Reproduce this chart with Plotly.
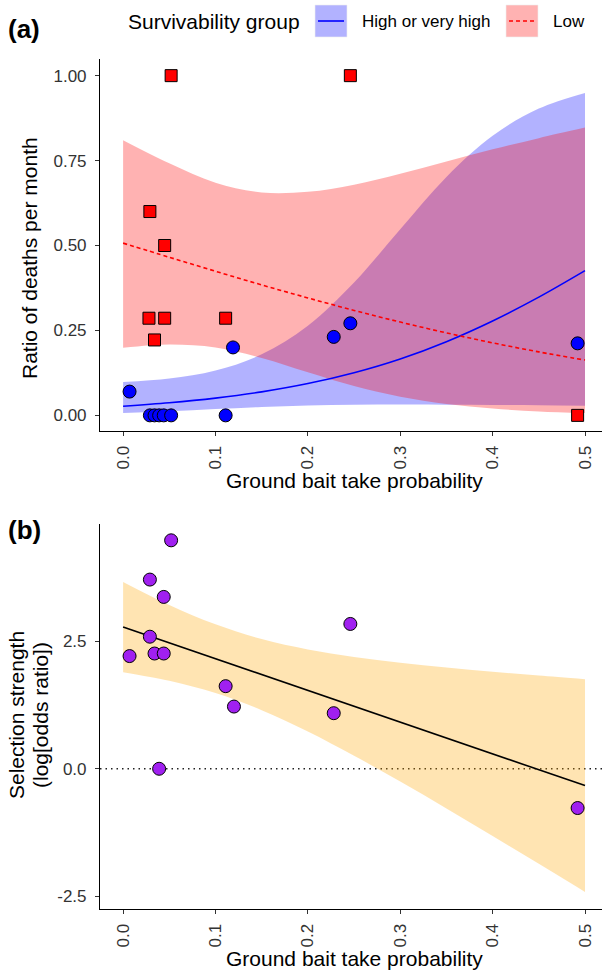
import plotly.graph_objects as go

W, H = 602, 972
FONT = "Liberation Sans, Arial, sans-serif"

# ---------------- data: panel (a) ----------------
site_x_high = [0.007, 0.029, 0.034, 0.039, 0.044, 0.052, 0.111, 0.119, 0.228, 0.246, 0.492]
ratio_high = [0.07, 0.0, 0.0, 0.0, 0.0, 0.0, 0.0, 0.20, 0.231, 0.271, 0.212]
site_x_low = [0.052, 0.246, 0.029, 0.045, 0.028, 0.045, 0.111, 0.034, 0.492]
ratio_low = [1.0, 1.0, 0.6, 0.5, 0.286, 0.286, 0.286, 0.222, 0.0]

fit_x = [0.0, 0.05, 0.1, 0.15, 0.2, 0.25, 0.3, 0.35, 0.4, 0.45, 0.5]
high_fit = [0.0270, 0.0371, 0.0508, 0.0692, 0.0936, 0.1255, 0.166, 0.217, 0.278, 0.348, 0.426]
high_lo = [0.0070, 0.0120, 0.0185, 0.0246, 0.0289, 0.0310, 0.0317, 0.0315, 0.0308, 0.0298, 0.0286]
high_hi = [0.0984, 0.1087, 0.1319, 0.1796, 0.264, 0.391, 0.548, 0.702, 0.823, 0.903, 0.949]
low_fit = [0.507, 0.4654, 0.4243, 0.384, 0.3457, 0.309, 0.2747, 0.2428, 0.2135, 0.1868, 0.1628]
low_lo = [0.199, 0.2088, 0.200, 0.169, 0.127, 0.0863, 0.055, 0.0337, 0.0200, 0.0117, 0.0068]
low_hi = [0.810, 0.742, 0.685, 0.656, 0.658, 0.679, 0.711, 0.747, 0.783, 0.816, 0.847]

ratio_ticks = [0.0, 0.25, 0.5, 0.75, 1.0]
ratio_ticktext = ["0.00", "0.25", "0.50", "0.75", "1.00"]
prob_ticks = [0.0, 0.1, 0.2, 0.3, 0.4, 0.5]
prob_ticktext = ["0.0", "0.1", "0.2", "0.3", "0.4", "0.5"]

# ---------------- data: panel (b) ----------------
sel_x = [0.007, 0.029, 0.029, 0.034, 0.039, 0.044, 0.044, 0.052, 0.111, 0.120, 0.228, 0.246, 0.492]
sel_y = [2.21, 3.71, 2.59, 2.26, 0.0, 3.37, 2.26, 4.48, 1.62, 1.22, 1.09, 2.84, -0.77]
sel_fit = [2.78, 2.469, 2.158, 1.847, 1.536, 1.225, 0.914, 0.603, 0.292, -0.019, -0.33]
sel_lo = [1.895, 1.725, 1.484, 1.150, 0.732, 0.256, -0.252, -0.780, -1.320, -1.865, -2.416]
sel_hi = [3.665, 3.213, 2.832, 2.544, 2.340, 2.194, 2.080, 1.986, 1.904, 1.827, 1.756]
sel_ticks = [-2.5, 0.0, 2.5]
sel_ticktext = ["-2.5", "0.0", "2.5"]
reference_level = 0.0

groups = ["High or very high", "Low"]

# ---------------- helpers ----------------
def px(x):
    return x / W

def py(y):
    return 1 - y / H

BLUE = "#0000FF"
RED = "#FF0000"
BLUE_FILL = "rgba(0,0,255,0.3)"
RED_FILL = "rgba(255,0,0,0.3)"
ORANGE_FILL = "rgba(255,165,0,0.3)"
PURPLE = "#A020F0"

fig = go.Figure()

# panel (a) bands
fig.add_trace(go.Scatter(x=fit_x, y=high_lo, mode="lines", line=dict(width=0, shape="spline"),
                         showlegend=False, hoverinfo="skip", xaxis="x", yaxis="y"))
fig.add_trace(go.Scatter(x=fit_x, y=high_hi, mode="lines", line=dict(width=0, shape="spline"),
                         fill="tonexty", fillcolor=BLUE_FILL, showlegend=False, hoverinfo="skip",
                         xaxis="x", yaxis="y"))
fig.add_trace(go.Scatter(x=fit_x, y=low_lo, mode="lines", line=dict(width=0, shape="spline"),
                         showlegend=False, hoverinfo="skip", xaxis="x", yaxis="y"))
fig.add_trace(go.Scatter(x=fit_x, y=low_hi, mode="lines", line=dict(width=0, shape="spline"),
                         fill="tonexty", fillcolor=RED_FILL, showlegend=False, hoverinfo="skip",
                         xaxis="x", yaxis="y"))
# panel (a) fitted lines
fig.add_trace(go.Scatter(x=fit_x, y=high_fit, mode="lines",
                         line=dict(color=BLUE, width=1.6, shape="spline"),
                         name=groups[0], showlegend=False, xaxis="x", yaxis="y"))
fig.add_trace(go.Scatter(x=fit_x, y=low_fit, mode="lines",
                         line=dict(color=RED, width=1.6, dash="4px,3px", shape="spline"),
                         name=groups[1], showlegend=False, xaxis="x", yaxis="y"))
# panel (a) points
fig.add_trace(go.Scatter(x=site_x_high, y=ratio_high, mode="markers",
                         marker=dict(symbol="circle", size=13, color=BLUE,
                                     line=dict(color="black", width=1)),
                         name=groups[0], showlegend=False, xaxis="x", yaxis="y"))
fig.add_trace(go.Scatter(x=site_x_low, y=ratio_low, mode="markers",
                         marker=dict(symbol="square", size=12, color=RED,
                                     line=dict(color="black", width=1)),
                         name=groups[1], showlegend=False, xaxis="x", yaxis="y"))

# panel (b)
fig.add_trace(go.Scatter(x=fit_x, y=sel_lo, mode="lines", line=dict(width=0, shape="spline"),
                         showlegend=False, hoverinfo="skip", xaxis="x2", yaxis="y2"))
fig.add_trace(go.Scatter(x=fit_x, y=sel_hi, mode="lines", line=dict(width=0, shape="spline"),
                         fill="tonexty", fillcolor=ORANGE_FILL, showlegend=False, hoverinfo="skip",
                         xaxis="x2", yaxis="y2"))
fig.add_trace(go.Scatter(x=fit_x, y=sel_fit, mode="lines", line=dict(color="black", width=1.6),
                         showlegend=False, xaxis="x2", yaxis="y2"))
fig.add_trace(go.Scatter(x=sel_x, y=sel_y, mode="markers",
                         marker=dict(symbol="circle", size=13, color=PURPLE,
                                     line=dict(color="black", width=1)),
                         showlegend=False, xaxis="x2", yaxis="y2"))

X_LEFT = 100
xrange = [-0.025, 0.5 + (W - 585) / 924.0]

axis_common = dict(
    showline=True, linecolor="black", linewidth=1.1, mirror=False,
    ticks="outside", ticklen=4, tickwidth=1, tickcolor="#333333",
    showgrid=False, zeroline=False,
    tickfont=dict(family=FONT, size=17, color="#333333"),
)

fig.update_layout(
    width=W, height=H,
    margin=dict(l=0, r=0, t=0, b=0),
    paper_bgcolor="white", plot_bgcolor="white",
    showlegend=False,
    font=dict(family=FONT, color="black"),
    xaxis=dict(domain=[px(X_LEFT), 1], range=xrange, anchor="y",
               tickvals=prob_ticks, ticktext=prob_ticktext, tickangle=-90,
               ticklabelstandoff=3, **axis_common),
    yaxis=dict(domain=[py(431), py(59)], range=[-0.046, 1.049], anchor="x",
               tickvals=ratio_ticks, ticktext=ratio_ticktext, ticklabelstandoff=5, **axis_common),
    xaxis2=dict(domain=[px(X_LEFT), 1], range=xrange, anchor="y2",
                tickvals=prob_ticks, ticktext=prob_ticktext, tickangle=-90,
                ticklabelstandoff=3, **axis_common),
    yaxis2=dict(domain=[py(909), py(524)], range=[-2.75, 4.80], anchor="x2",
                tickvals=sel_ticks, ticktext=sel_ticktext, ticklabelstandoff=5, **axis_common),
)

TITLE_SIZE = 21
ann = []
def text(x, y, s, size=TITLE_SIZE, xanchor="center", angle=0, bold=False):
    ann.append(dict(x=px(x), y=py(y), xref="paper", yref="paper", text=(f"<b>{s}</b>" if bold else s),
                    showarrow=False, xanchor=xanchor, yanchor="middle", textangle=angle,
                    font=dict(family=FONT, size=size, color="black")))

# tags
text(6, 29, "(a)", size=26, xanchor="left", bold=True)
text(6, 530, "(b)", size=26, xanchor="left", bold=True)
# axis titles
text(354, 480, "Ground bait take probability")
text(354, 958, "Ground bait take probability")
text(29, 258, "Ratio of deaths per month", angle=-90)
text(16, 715, "Selection strength", angle=-90)
text(40, 715, "(log[odds ratio])", angle=-90)
# legend
text(126, 22, "Survivability group", xanchor="left")
text(360, 22, groups[0], size=17, xanchor="left")
text(551, 22, groups[1], size=17, xanchor="left")

shapes = [
    # dotted reference line at zero in panel (b)
    dict(type="line", xref="x2 domain", yref="y2", x0=0, x1=1,
         y0=reference_level, y1=reference_level, layer="below",
         line=dict(color="#222222", width=1.6, dash="1.5px,4px")),
    dict(type="rect", xref="paper", yref="paper", x0=px(315), x1=px(347), y0=py(37), y1=py(5),
         fillcolor=BLUE_FILL, line=dict(width=0.6, color="#EEEEEE")),
    dict(type="line", xref="paper", yref="paper", x0=px(318), x1=px(344), y0=py(21), y1=py(21),
         line=dict(color=BLUE, width=1.6)),
    dict(type="rect", xref="paper", yref="paper", x0=px(506), x1=px(538), y0=py(37), y1=py(5),
         fillcolor=RED_FILL, line=dict(width=0.6, color="#EEEEEE")),
    dict(type="line", xref="paper", yref="paper", x0=px(509), x1=px(536), y0=py(21), y1=py(21),
         line=dict(color=RED, width=1.6, dash="4px,3px")),
]
fig.update_layout(annotations=ann, shapes=shapes)

fig.write_html("out.html", config={"displayModeBar": False},
               post_script="document.body.style.margin='0';document.body.style.overflow='hidden';")
